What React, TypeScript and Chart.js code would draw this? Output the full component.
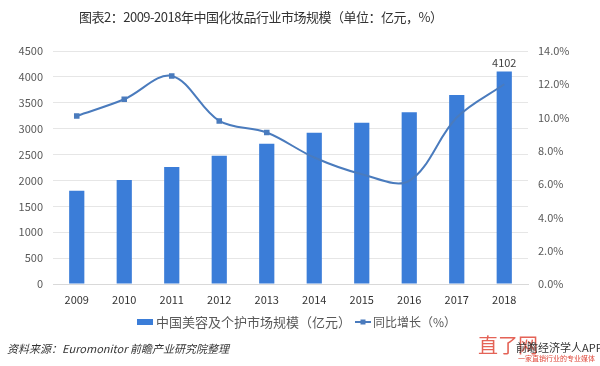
import React, { useEffect, useRef } from "react";
import { Chart, registerables } from "chart.js";

Chart.register(...registerables);

const categories = ["2009", "2010", "2011", "2012", "2013", "2014", "2015", "2016", "2017", "2018"];
const marketSize = [1802, 2009, 2260, 2478, 2710, 2922, 3115, 3316, 3650, 4102];
const growthRate = [10.1, 11.1, 12.5, 9.8, 9.1, 7.6, 6.6, 6.2, 10.0, 12.0];
const leftTicks = [0, 500, 1000, 1500, 2000, 2500, 3000, 3500, 4000, 4500];
const rightTicks = [0, 2, 4, 6, 8, 10, 12, 14];
const barLabel = "中国美容及个护市场规模（亿元）";
const lineLabel = "同比增长（%）";
const titleText = "图表2：2009-2018年中国化妆品行业市场规模（单位：亿元，%）";
const sourceText = "资料来源：Euromonitor 前瞻产业研究院整理";

const BAR_COLOR = "#3b7dd8";
const LINE_COLOR = "#4a7bbd";
const FONT = "'Noto Sans CJK SC', 'Noto Sans', sans-serif";

export default function App() {
  const ref = useRef<HTMLCanvasElement | null>(null);

  useEffect(() => {
    document.body.style.margin = "0";
    const canvas = ref.current;
    if (!canvas) return;

    const labelPlugin = {
      id: "lastLabel",
      afterDatasetsDraw(chart: any) {
        const ctx = chart.ctx;
        const meta = chart.getDatasetMeta(0);
        const i = marketSize.length - 1;
        const el = meta.data[i];
        ctx.save();
        ctx.fillStyle = "#404040";
        ctx.font = `11px ${FONT}`;
        ctx.textAlign = "center";
        ctx.textBaseline = "bottom";
        ctx.fillText(String(marketSize[i]), el.x, el.y - 3);
        ctx.restore();
      },
    };

    const legendPlugin = {
      id: "customLegend",
      afterDraw(chart: any) {
        const ctx = chart.ctx;
        ctx.save();
        const y = 322;
        ctx.font = `13px ${FONT}`;
        ctx.textBaseline = "middle";
        ctx.fillStyle = BAR_COLOR;
        ctx.fillRect(137, y - 3, 16, 6);
        ctx.fillStyle = "#595959";
        ctx.fillText(chart.data.datasets[0].label, 156, y);
        ctx.strokeStyle = LINE_COLOR;
        ctx.lineWidth = 2;
        ctx.beginPath();
        ctx.moveTo(355, y);
        ctx.lineTo(371, y);
        ctx.stroke();
        ctx.fillStyle = LINE_COLOR;
        ctx.fillRect(360.5, y - 2.5, 5, 5);
        ctx.fillStyle = "#595959";
        ctx.font = `12px ${FONT}`;
        ctx.fillText(chart.data.datasets[1].label, 373, y);
        ctx.restore();
      },
    };

    const chart = new Chart(canvas, {
      type: "bar",
      data: {
        labels: categories,
        datasets: [
          {
            type: "bar",
            label: barLabel,
            data: marketSize,
            backgroundColor: BAR_COLOR,
            yAxisID: "y",
            categoryPercentage: 0.8,
            barPercentage: 0.4,
            order: 2,
          },
          {
            type: "line",
            label: lineLabel,
            data: growthRate,
            borderColor: LINE_COLOR,
            backgroundColor: LINE_COLOR,
            borderWidth: 2,
            tension: 0.35,
            pointStyle: "rect",
            pointRadius: [2.5, 2.5, 2.5, 2.5, 2.5, 0, 0, 0, 0, 0],
            yAxisID: "y1",
            order: 1,
          },
        ],
      },
      options: {
        responsive: false,
        animation: false,
        layout: { padding: { top: 51, left: 0, right: 0, bottom: 0 } },
        plugins: {
          legend: { display: false },
          title: { display: false },
          tooltip: { enabled: false },
        },
        scales: {
          x: {
            grid: { display: false, drawTicks: false },
            border: { display: true, color: "#d9d9d9" },
            ticks: { color: "#333333", font: { size: 11, family: FONT }, padding: 9 },
            afterFit(scale: any) {
              scale.height = 82;
            },
          },
          y: {
            position: "left",
            min: 0,
            max: 4500,
            afterBuildTicks(scale: any) {
              scale.ticks = leftTicks.map((v) => ({ value: v }));
            },
            grid: { color: "#e6e6e6", drawTicks: false },
            border: { display: false },
            ticks: {
              color: "#595959",
              font: { size: 11, family: FONT },
              padding: 10,
              callback: (v: any) => String(v),
            },
            afterFit(scale: any) {
              scale.width = 53;
            },
          },
          y1: {
            position: "right",
            min: 0,
            max: 14,
            afterBuildTicks(scale: any) {
              scale.ticks = rightTicks.map((v) => ({ value: v }));
            },
            grid: { display: false, drawTicks: false },
            border: { display: false },
            ticks: {
              color: "#595959",
              font: { size: 11, family: FONT },
              padding: 10,
              callback: (v: any) => Number(v).toFixed(1) + "%",
            },
            afterFit(scale: any) {
              scale.width = 72;
            },
          },
        },
      },
      plugins: [labelPlugin, legendPlugin],
    });

    return () => chart.destroy();
  }, []);

  return (
    <div style={{ position: "relative", width: 600, height: 366, background: "#fff", fontFamily: FONT }}>
      <canvas ref={ref} width={600} height={366} style={{ position: "absolute", left: 0, top: 0 }} />
      <div
        style={{
          position: "absolute",
          left: 79,
          top: 7,
          fontSize: 13,
          letterSpacing: "-0.5px",
          color: "#333",
          whiteSpace: "nowrap",
          lineHeight: "20px",
        }}
      >
        {titleText}
      </div>
      <div
        style={{
          position: "absolute",
          left: 7,
          top: 340,
          fontSize: 11,
          fontStyle: "italic",
          color: "#333",
          whiteSpace: "nowrap",
          lineHeight: "16px",
        }}
      >
        {sourceText}
      </div>
      <div
        style={{
          position: "absolute",
          left: 478,
          top: 333,
          fontSize: 20,
          color: "#e0483a",
          whiteSpace: "nowrap",
          lineHeight: "24px",
          opacity: 0.85,
        }}
      >
        直了网
      </div>
      <div
        style={{
          position: "absolute",
          left: 516,
          top: 340,
          fontSize: 11,
          color: "#333",
          whiteSpace: "nowrap",
          lineHeight: "14px",
        }}
      >
        前瞻经济学人APP
      </div>
      <div
        style={{
          position: "absolute",
          left: 518,
          top: 354,
          fontSize: 7,
          color: "#e0483a",
          whiteSpace: "nowrap",
          lineHeight: "9px",
        }}
      >
        一家直销行业的专业媒体
      </div>
    </div>
  );
}
